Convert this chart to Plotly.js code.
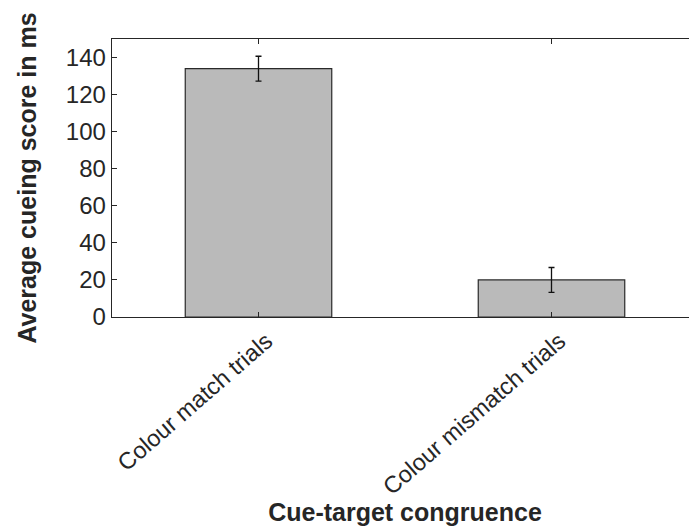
<!DOCTYPE html>
<html>
<head>
<meta charset="utf-8">
<script src="https://cdn.plot.ly/plotly-3.0.1.min.js"></script>
<style>
html,body{margin:0;padding:0;overflow:hidden;background:#fff;}
#chart{width:710px;height:526px;}
</style>
</head>
<body>
<div id="chart"></div>
<script>
const categories = ["Colour match trials", "Colour mismatch trials"];
const meanScores = [134, 20];
const errorValues = [6.7, 6.7];
const yTickValues = [0, 20, 40, 60, 80, 100, 120, 140];

const trace = {
  type: 'bar',
  x: [1, 2],
  y: meanScores,
  width: 0.5,
  marker: {color: '#bababa', line: {color: '#2a2a2a', width: 1.2}},
  error_y: {type: 'data', array: errorValues, visible: true, color: '#111111', thickness: 1.3, width: 3},
  hoverinfo: 'none'
};

const layout = {
  width: 710,
  height: 526,
  margin: {l: 112, r: 12, t: 39, b: 209},
  paper_bgcolor: '#ffffff',
  plot_bgcolor: '#ffffff',
  showlegend: false,
  font: {family: '"Liberation Sans", Arial, sans-serif', color: '#262626'},
  xaxis: {
    range: [0.5, 2.5],
    tickmode: 'array',
    tickvals: [1, 2],
    ticktext: categories,
    tickangle: -41,
    ticks: 'inside',
    ticklen: 5,
    tickcolor: '#262626',
    showline: true,
    linecolor: '#262626',
    linewidth: 1.3,
    mirror: 'ticks',
    showgrid: false,
    zeroline: false,
    ticklabelshift: 8,
    tickfont: {size: 23.5, color: '#262626'},
    title: {text: '<b>Cue-target congruence</b>', font: {size: 25, color: '#262626'}, standoff: 14}
  },
  yaxis: {
    range: [0, 150],
    tickmode: 'array',
    tickvals: yTickValues,
    ticks: 'inside',
    ticklen: 5,
    tickcolor: '#262626',
    showline: true,
    linecolor: '#262626',
    linewidth: 1.3,
    mirror: 'ticks',
    showgrid: false,
    zeroline: false,
    tickfont: {size: 24, color: '#262626'},
    title: {text: '<b>Average cueing score in ms</b>', font: {size: 25, color: '#262626'}, standoff: 22}
  }
};

Plotly.newPlot('chart', [trace], layout, {displayModeBar: false, staticPlot: true});
</script>
</body>
</html>
